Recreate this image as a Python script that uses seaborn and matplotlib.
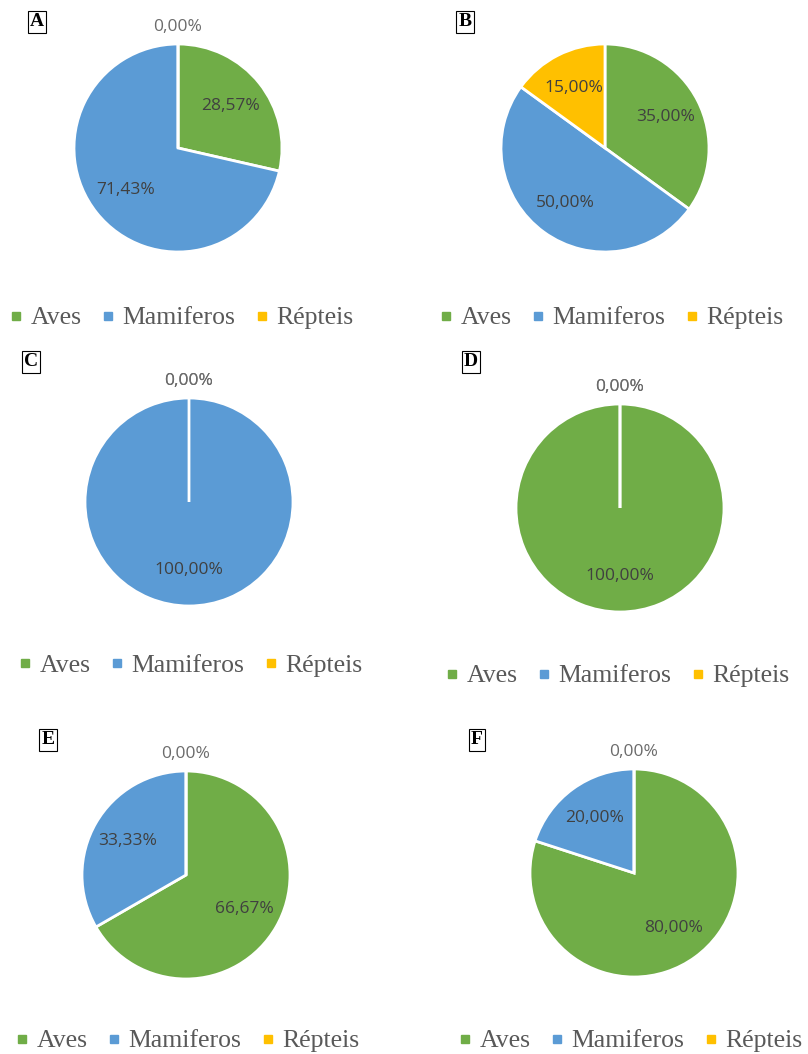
import matplotlib
matplotlib.use("Agg")
import matplotlib.pyplot as plt
from matplotlib.lines import Line2D
import seaborn as sns
import numpy as np

# ---- data ----
categories = ["Aves", "Mamiferos", "Répteis"]
panel_letters = ["A", "B", "C", "D", "E", "F"]
values_A = [28.57, 71.43, 0.0]
values_B = [35.00, 50.00, 15.00]
values_C = [0.0, 100.00, 0.0]
values_D = [100.00, 0.0, 0.0]
values_E = [66.67, 33.33, 0.0]
values_F = [80.00, 20.00, 0.0]
all_values = [values_A, values_B, values_C, values_D, values_E, values_F]

# ---- style ----
sns.set_theme(style="white")
palette = sns.color_palette(["#70AD47", "#5B9BD5", "#FFC000"])
plt.rcParams["font.family"] = ["Open Sans", "DejaVu Sans"]

W, H = 808, 1054
fig = plt.figure(figsize=(W / 100, H / 100), dpi=100)
fig.patch.set_facecolor("white")

R = 104
# layout (pixel positions, from top-left)
pie_centers = [(178, 148), (605, 148), (189, 502), (620, 508), (186, 875), (634, 873)]
legend_centers = [(181, 318), (611, 318), (190, 666), (617, 676), (187, 1041), (630, 1041)]
letter_pos = [(37, 22), (465, 22), (31, 362), (471, 362), (48, 740), (477, 740)]


def fmt(p):
    return f"{p:.2f}".replace(".", ",") + "%"


for i, vals in enumerate(all_values):
    cx, cy = pie_centers[i]
    ax = fig.add_axes([(cx - R) / W, 1 - (cy + R) / H, 2 * R / W, 2 * R / H])
    wedges, texts, autotexts = ax.pie(
        vals, colors=palette, startangle=90, counterclock=False,
        autopct=fmt, pctdistance=0.65,
        wedgeprops=dict(edgecolor="white", linewidth=2.0),
        textprops=dict(fontsize=12.5, color="#404040"),
    )
    ax.set_xlim(-1, 1)
    ax.set_ylim(-1, 1)
    ax.set_aspect("equal")
    ax.axis("off")
    for v, t in zip(vals, autotexts):
        if v == 0:
            x, y = t.get_position()
            t.set_position((x / 0.65 * 1.16, y / 0.65 * 1.16))
            t.set_color("#6b6b6b")

    # legend
    lx, ly = legend_centers[i]
    handles = [Line2D([], [], marker="s", linestyle="none", markersize=6,
                      markerfacecolor=c, markeredgecolor=c) for c in palette]
    fig.legend(handles, categories, loc="center",
               bbox_to_anchor=(lx / W, 1 - ly / H), ncol=3, frameon=False,
               handlelength=0.55, handletextpad=0.3, columnspacing=0.75,
               prop=dict(family="Liberation Serif", size=18.5),
               labelcolor="#595959", borderpad=0, borderaxespad=0)

    # panel letter
    px, py = letter_pos[i]
    fig.text(px / W, 1 - py / H, panel_letters[i], ha="center", va="center",
             family="Liberation Serif", fontweight="bold", fontsize=14, color="black",
             bbox=dict(boxstyle="square,pad=0.12", facecolor="white",
                       edgecolor="black", linewidth=0.8))

fig.savefig("out.png", dpi=100, facecolor="white")
